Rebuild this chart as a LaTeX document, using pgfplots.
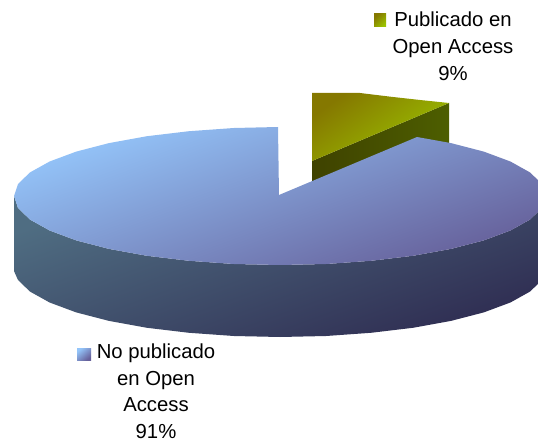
\documentclass[border=0pt]{standalone}
\usepackage{fontspec}
\setmainfont{Liberation Sans}
\usepackage{pgfplots}
\pgfplotsset{compat=1.18}
\definecolor{bluelight}{HTML}{94C5FA}
\definecolor{bluedark}{HTML}{66609A}
\definecolor{sidelight}{HTML}{4F6D82}
\definecolor{sidedark}{HTML}{2F2D52}
\definecolor{greenlight}{HTML}{9CC400}
\definecolor{greendark}{HTML}{857800}
\definecolor{olivelight}{HTML}{4D5E00}
\definecolor{olivedark}{HTML}{3F4200}
\begin{document}
\begin{tikzpicture}
\path[use as bounding box] (0,0) rectangle (538pt,441pt);
\begin{axis}[
  at={(0,0)}, anchor=south west,
  scale only axis, width=538pt, height=441pt,
  xmin=0, xmax=538, ymin=0, ymax=441, y dir=reverse,
  hide axis, clip=true,
]
% exploded slice: cut face
\addplot[draw=none, mark=none, left color=olivedark, right color=olivelight, forget plot] coordinates {
 (312,161) (449,103) (449,150) (416,150) (312,182)} --cycle;
% exploded slice: top
\addplot[draw=none, mark=none, left color=greendark, right color=greenlight, shading angle=35, forget plot] coordinates {
 (312,161) (312,93) (360,93) (393,97) (420,100) (449,103)} --cycle;
% large slice: side wall
\addplot[draw=none, mark=none, left color=sidelight, right color=sidedark, shading angle=20, forget plot] coordinates {
 (14,196) (18,208) (30,219.6) (49.6,230.5) (76.2,240.4) (109,248.9) (147,255.8) (189,260.8)
 (233.8,264) (280,265) (326.2,264) (371,260.8) (413,255.8) (451,248.9) (483.8,240.4)
 (510.4,230.5) (530,219.6) (542,208) (546,196)
 (546,268) (542,280) (530,291.6) (510.4,302.5) (483.8,312.4) (451,320.9) (413,327.8)
 (371,332.8) (326.2,336) (280,337) (233.8,336) (189,332.8) (147,327.8) (109,320.9)
 (76.2,312.4) (49.6,302.5) (30,291.6) (18,280) (14,271)} --cycle;
% large slice: top
\addplot[draw=none, mark=none, left color=bluelight, right color=bluedark, shading angle=20, forget plot] coordinates {
 (279,195) (278,127) (233.8,128) (189,131.2) (147,136.2) (109,143.1) (76.2,151.6)
 (49.6,161.5) (30,172.4) (18,184) (14,196) (18,208) (30,219.6) (49.6,230.5) (76.2,240.4)
 (109,248.9) (147,255.8) (189,260.8) (233.8,264) (280,265) (326.2,264) (371,260.8)
 (413,255.8) (451,248.9) (483.8,240.4) (510.4,230.5) (530,219.6) (542,208) (546,196)
 (542,184) (530,172.4) (510.4,161.5) (483.8,151.6) (451,143.1) (417,137)} --cycle;
% legend keys
\addplot[draw=none, mark=none, left color=greendark, right color=greenlight, shading angle=45, forget plot] coordinates {
 (374,14) (386,14) (386,27) (374,27)} --cycle;
\addplot[draw=none, mark=none, left color=bluelight, right color=bluedark, shading angle=40, forget plot] coordinates {
 (77,348) (91,348) (91,360) (77,360)} --cycle;
% labels
\node[anchor=center, align=center, inner sep=0pt, font=\fontsize{20.3}{27}\selectfont] at (axis cs:453,46.5) {Publicado en\\Open Access\\9\%};
\node[anchor=center, align=center, inner sep=0pt, font=\fontsize{20.3}{26.5}\selectfont] at (axis cs:156,391) {No publicado\\en Open\\Access\\91\%};
\end{axis}
\end{tikzpicture}
\end{document}
